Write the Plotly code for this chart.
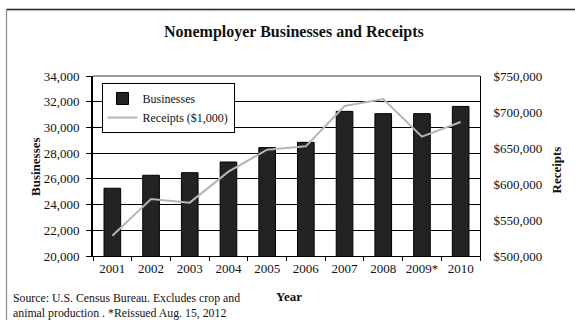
import plotly.graph_objects as go

# Nonemployer businesses (thousands) and receipts ($1,000), 2001-2010
years = ["2001", "2002", "2003", "2004", "2005", "2006", "2007", "2008", "2009*", "2010"]
businesses = [25270, 26280, 26480, 27310, 28430, 28840, 31250, 31070, 31070, 31635]
receipts = [528200, 579200, 574100, 617100, 647700, 652300, 708300, 718100, 665700, 686100]

left_ticks = list(range(20000, 34001, 2000))
right_ticks = list(range(500000, 750001, 50000))

W, H = 575, 320
L, R, T, B = 93, 95, 76, 64
PW, PH = W - L - R, H - T - B


def px(x):
    return (x - L) / PW


def py(y):
    return (H - B - y) / PH


SERIF = "Liberation Serif, Times New Roman, serif"

fig = go.Figure()
fig.add_trace(go.Bar(
    x=years, y=businesses, name="Businesses",
    marker=dict(color="#232323", line=dict(color="#000000", width=1)),
    yaxis="y",
))
fig.add_trace(go.Scatter(
    x=years, y=receipts, name="Receipts ($1,000)", mode="lines",
    line=dict(color="#b5b5b5", width=2),
    yaxis="y2",
))

fig.update_layout(
    width=W, height=H,
    margin=dict(l=L, r=R, t=T, b=B, pad=0),
    paper_bgcolor="white", plot_bgcolor="white",
    font=dict(family=SERIF, size=13, color="#111111"),
    bargap=0.57,
    showlegend=True,
    legend=dict(
        x=px(101.5), y=py(83), xanchor="left", yanchor="top",
        bgcolor="white", bordercolor="#000000", borderwidth=1,
        font=dict(family=SERIF, size=12, color="#111111"),
        itemwidth=30, tracegroupgap=0,
    ),
    xaxis=dict(
        type="category", range=[-0.5, 9.5], showline=True, linecolor="#000000", linewidth=1,
        ticks="outside", tickson="boundaries", ticklen=4, tickcolor="#000000",
        showgrid=False, tickfont=dict(size=13), tickangle=0,
    ),
    yaxis=dict(
        range=[20000, 34000], tickvals=left_ticks, tickformat=",d",
        showline=True, linecolor="#000000", linewidth=2,
        ticks="outside", ticklen=5, tickcolor="#000000",
        showgrid=True, gridcolor="#000000", gridwidth=1,
        zeroline=False, tickfont=dict(size=13), ticklabelstandoff=4,
    ),
    yaxis2=dict(
        range=[500000, 750000], tickvals=right_ticks,
        ticktext=[f"${v:,}" for v in right_ticks],
        overlaying="y", side="right",
        showline=True, linecolor="#000000", linewidth=1,
        ticks="outside", ticklen=10, tickcolor="rgba(0,0,0,0)",
        showgrid=False, zeroline=False,
        tickfont=dict(size=13),
    ),
)

# Gray top edge of the plot area and the outer frame
fig.add_shape(type="line", xref="paper", yref="paper", x0=0, x1=1, y0=1, y1=1,
              line=dict(color="#7a7a7a", width=1.5))
fig.add_shape(type="line", xref="paper", yref="paper",
              x0=px(6.5), x1=px(W + 2), y0=py(9.5), y1=py(9.5),
              line=dict(color="#1e1e1e", width=1.5))
fig.add_shape(type="line", xref="paper", yref="paper",
              x0=px(6.5), x1=px(W + 2), y0=py(10.8), y1=py(10.8),
              line=dict(color="#c8c8c8", width=1))
fig.add_shape(type="line", xref="paper", yref="paper",
              x0=px(6.5), x1=px(6.5), y0=py(9.5), y1=py(H + 2),
              line=dict(color="#8a8a8a", width=1.2))

annotations = [
    dict(text="<b>Nonemployer Businesses and Receipts</b>", x=px(294), y=py(32),
         xanchor="center", yanchor="middle", font=dict(size=16, color="#111111")),
    dict(text="<b>Businesses</b>", x=px(35), y=py(167), textangle=-90,
         xanchor="center", yanchor="middle", font=dict(size=13, color="#111111")),
    dict(text="<b>Receipts</b>", x=px(555.5), y=py(170), textangle=-90,
         xanchor="center", yanchor="middle", font=dict(size=13, color="#111111")),
    dict(text="<b>Year</b>", x=px(289), y=py(296),
         xanchor="center", yanchor="middle", font=dict(size=13, color="#111111")),
    dict(text="Source: U.S. Census Bureau. Excludes crop and<br>animal production . *Reissued Aug. 15, 2012",
         x=px(11), y=py(289), xanchor="left", yanchor="top", align="left",
         font=dict(size=11.8, color="#111111")),
    dict(text=f"{businesses[-1]:,}", x=years[-1], y=businesses[-1], xref="x", yref="y",
         xanchor="center", yanchor="bottom", yshift=3,
         font=dict(size=12, color="#333333")),
]
for a in annotations:
    a.setdefault("xref", "paper")
    a.setdefault("yref", "paper")
    a["showarrow"] = False
    fig.add_annotation(**a)

fig.write_html("out.html")
